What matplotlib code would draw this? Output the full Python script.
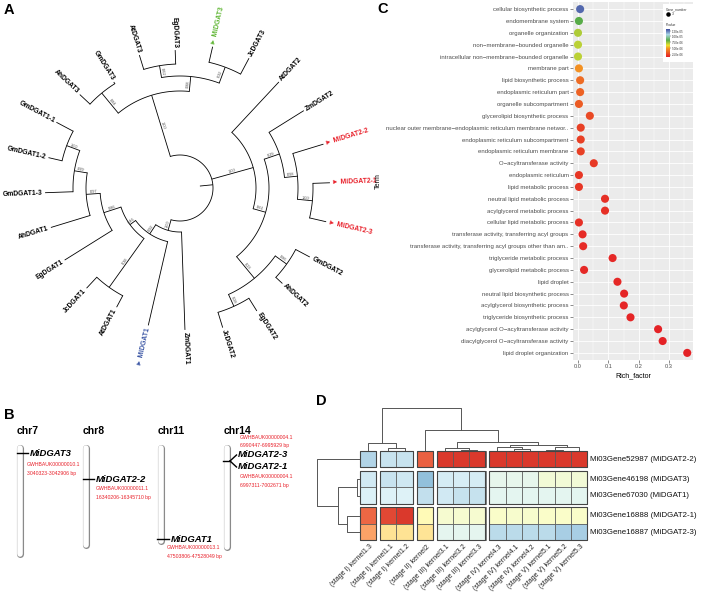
import numpy as np
import matplotlib
matplotlib.use('Agg')
import matplotlib.pyplot as plt
from matplotlib.colors import LinearSegmentedColormap, Normalize
from matplotlib.patches import Rectangle
from matplotlib.cm import ScalarMappable

# ======================= DATA =======================
# Panel A: phylogenetic tree (Newick, branch lengths, bootstrap support)
tree_newick = ("(((AhDGAT3:14,GmDGAT3:2)0.84:26,((AtDGAT3:15,EgDGAT3:14)0.62:12,"
               "(MiDGAT3:16,JcDGAT3:18)0.32:17)0.88:15)1.00:64,"
               "(AtDGAT2:69,((ZmDGAT2:41,(MiDGAT2-2:32,(MiDGAT2-1:17,MiDGAT2-3:17)1.00:15)0.98:13)0.29:16,"
               "((GmDGAT2:16,AhDGAT2:9)0.86:14,(EgDGAT2:15,JcDGAT2:16)0.28:13)0.23:28)0.61:13)1.00:43,"
               "(ZmDGAT1:98,(MiDGAT1:86,((AtDGAT1:13,JcDGAT1:15)0.38:60,(EgDGAT1:56,(AhDGAT1:41,"
               "(GmDGAT1-3:28,(GmDGAT1-2:14,GmDGAT1-1:19)1.00:14)0.99:13)0.97:14)0.86:18)0.46:7)0.92:11)1.00:11):13;")
highlight_tips = ['MiDGAT3', 'MiDGAT2-1', 'MiDGAT2-2', 'MiDGAT2-3', 'MiDGAT1']
highlight_colors = ['#5db531', '#e8202a', '#e8202a', '#e8202a', '#3a55a4']

# Panel B: chromosome locations
chromosomes = ['chr7', 'chr8', 'chr11', 'chr14']
chrom_len_mb = [55.4, 50.3, 48.2, 51.8]
genes = ['MiDGAT3', 'MiDGAT2-2', 'MiDGAT1', 'MiDGAT2-3', 'MiDGAT2-1']
gene_chrom = ['chr7', 'chr8', 'chr11', 'chr14', 'chr14']
gene_contig = ['GWHBAUK00000010.1', 'GWHBAUK00000011.1', 'GWHBAUK00000013.1',
               'GWHBAUK00000004.1', 'GWHBAUK00000004.1']
gene_start = [3040323, 16340206, 47503806, 6990447, 6997311]
gene_end = [3042906, 16345710, 47528049, 6995929, 7002671]

# Panel C: GO enrichment
terms = ['cellular biosynthetic process', 'endomembrane system', 'organelle organization',
         'non\u2212membrane\u2212bounded organelle', 'intracellular non\u2212membrane\u2212bounded organelle',
         'membrane part', 'lipid biosynthetic process', 'endoplasmic reticulum part',
         'organelle subcompartment', 'glycerolipid biosynthetic process',
         'nuclear outer membrane\u2212endoplasmic reticulum membrane networ..',
         'endoplasmic reticulum subcompartment', 'endoplasmic reticulum membrane',
         'O\u2212acyltransferase activity', 'endoplasmic reticulum', 'lipid metabolic process',
         'neutral lipid metabolic process', 'acylglycerol metabolic process',
         'cellular lipid metabolic process', 'transferase activity, transferring acyl groups',
         'transferase activity, transferring acyl groups other than am..',
         'triglyceride metabolic process', 'glycerolipid metabolic process', 'lipid droplet',
         'neutral lipid biosynthetic process', 'acylglycerol biosynthetic process',
         'triglyceride biosynthetic process', 'acylglycerol O\u2212acyltransferase activity',
         'diacylglycerol O\u2212acyltransferase activity', 'lipid droplet organization']
rich_factor = [0.007, 0.003, 0.0, 0.0, 0.0, 0.003, 0.007, 0.007, 0.003, 0.039,
               0.009, 0.009, 0.009, 0.052, 0.003, 0.003, 0.089, 0.089, 0.003, 0.015,
               0.017, 0.114, 0.020, 0.130, 0.152, 0.151, 0.173, 0.264, 0.279, 0.360]
pvalue = [1.25e-5, 8.4e-6, 7.2e-6, 7.0e-6, 7.0e-6, 4.9e-6, 3.8e-6, 3.5e-6, 3.3e-6, 2.8e-6,
          2.5e-6, 2.5e-6, 2.5e-6, 2.3e-6, 2.2e-6, 2.2e-6, 2.0e-6, 2.0e-6, 2.0e-6, 1.9e-6,
          1.9e-6, 1.8e-6, 1.8e-6, 1.8e-6, 1.7e-6, 1.7e-6, 1.7e-6, 1.6e-6, 1.6e-6, 1.6e-6]
pvalue_ticks = [1.2e-5, 1.0e-5, 7.5e-6, 5.0e-6, 2.5e-6]
gene_number = 3

# Panel D: expression heatmap (row-scaled)
samples = ['(stage I) kernel1.3', '(stage I) kernel1.1', '(stage I) kernel1.2', '(stage II) kernel2',
           '(stage III) kernel3.1', '(stage III) kernel3.2', '(stage III) kernel3.3',
           '(stage IV) kernel4.3', '(stage IV) kernel4.1', '(stage IV) kernel4.2',
           '(stage V) kernel5.1', '(stage V) kernel5.2', '(stage V) kernel5.3']
gene_ids = ['Mi03Gene52987 (MiDGAT2-2)', 'Mi03Gene46198 (MiDGAT3)', 'Mi03Gene67030 (MiDGAT1)',
            'Mi03Gene16888 (MiDGAT2-1)', 'Mi03Gene16887 (MiDGAT2-3)']
expr = np.array([
    [-1.05, -0.87, -0.87, 1.65, 1.93, 1.93, 1.93, 1.93, 1.93, 1.93, 1.93, 1.93, 1.93],
    [-0.79, -0.86, -0.80, -1.32, -0.76, -0.74, -0.76, -0.53, -0.53, -0.53, -0.27, -0.27, -0.27],
    [-0.70, -0.68, -0.68, -0.92, -0.79, -0.88, -0.88, -0.57, -0.57, -0.57, -0.57, -0.57, -0.57],
    [1.60, 1.82, 1.93, 0.12, -0.20, -0.20, -0.20, -0.12, -0.16, -0.16, -0.12, -0.12, -0.12],
    [1.16, 0.60, 0.60, 0.58, -0.56, -0.56, -0.56, -0.97, -0.97, -0.97, -0.97, -1.13, -1.13]])
col_groups = [1, 2, 1, 3, 6]
row_groups = [1, 2, 2]
col_linkage = [[0, [1, 2, 3], 8],
               [3, [[4, [5, 6, 1.5], 3], [[7, [8, 9, 2], 4], [[10, 11, 1.5], 12, 4], 6], 9], 21], 43]
row_linkage = [0, [[1, 2, 3], [3, 4, 13], 22], 43]

# ======================= FIGURE =======================
W, H = 701, 598
plt.rcParams['font.family'] = ['Liberation Sans', 'DejaVu Sans']
fig = plt.figure(figsize=(W / 100, H / 100), dpi=100)
fig.patch.set_facecolor('white')


def box(x0, y0, x1, y1):
    return [x0 / W, 1 - y1 / H, (x1 - x0) / W, (y1 - y0) / H]


def ftext(x, y, s, **kw):
    fig.text(x / W, 1 - y / H, s, **kw)


ftext(4, 10, 'A', fontsize=10.5, fontweight='bold', va='center')
ftext(4, 415, 'B', fontsize=10.5, fontweight='bold', va='center')
ftext(377, 9, 'C', fontsize=10.5, fontweight='bold', va='center')
ftext(316, 401, 'D', fontsize=10.5, fontweight='bold', va='center')

# ---------------- Panel A ----------------
def parse_newick(s):
    s = s.strip().rstrip(';')
    pos = 0

    def node():
        nonlocal pos
        children = []
        if s[pos] == '(':
            pos += 1
            while True:
                children.append(node())
                if s[pos] == ',':
                    pos += 1
                    continue
                pos += 1
                break
        st = pos
        while pos < len(s) and s[pos] not in ',():':
            pos += 1
        name = s[st:pos]
        length = 0.0
        if pos < len(s) and s[pos] == ':':
            pos += 1
            st = pos
            while pos < len(s) and s[pos] not in ',()':
                pos += 1
            length = float(s[st:pos])
        return {'name': name, 'len': length, 'children': children}
    return node()


tree = parse_newick(tree_newick)
R_OFFSET = 20
A_START, A_STEP = 137.0, 360.0 / 24
leaves = []


def assign(n, r0):
    n['rp'] = r0
    n['r'] = r0 + n['len']
    if not n['children']:
        n['ang'] = A_START - A_STEP * len(leaves)
        leaves.append(n)
    else:
        for c in n['children']:
            assign(c, n['r'])
        n['ang'] = float(np.mean([c['ang'] for c in n['children']]))


assign(tree, R_OFFSET)

R_AX = 180
axA = fig.add_axes(box(180 - R_AX, 188 - R_AX, 180 + R_AX, 188 + R_AX), projection='polar')
axA.set_ylim(0, R_AX)
axA.axis('off')


def rot_of(a):
    a = (a + 180) % 360 - 180
    if a > 90:
        return a - 180, True
    if a < -90:
        return a + 180, True
    return a, False


LW = 0.6


def draw_tree(n, is_root=False):
    th = np.deg2rad(n['ang'])
    axA.plot([th, th], [n['rp'], n['r']], color='black', lw=LW, solid_capstyle='butt')
    if n['children']:
        angs = [c['ang'] for c in n['children']]
        t = np.deg2rad(np.linspace(min(angs), max(angs), 120))
        axA.plot(t, np.full_like(t, n['r']), color='black', lw=LW)
        for c in n['children']:
            draw_tree(c)
        if not is_root and n['name']:
            rot, _ = rot_of(n['ang'])
            axA.text(th, (n['rp'] + n['r']) / 2, n['name'], fontsize=2.8, color='#444444',
                     rotation=rot, rotation_mode='anchor', ha='center', va='bottom')
    else:
        rot, flipped = rot_of(n['ang'])
        name = n['name']
        color = 'black'
        if name in highlight_tips:
            color = highlight_colors[highlight_tips.index(name)]
            name = '\u25ba ' + name
        axA.text(th, n['r'] + 2.5, name, fontsize=4.9, fontweight='bold', color=color,
                 rotation=rot, rotation_mode='anchor', va='center',
                 ha='right' if flipped else 'left')


draw_tree(tree, is_root=True)

# ---------------- Panel B ----------------
PX_PER_MB = 1.93
TOP_PX = 447.5
axB = fig.add_axes(box(0, 400, 350, 598))
axB.set_xlim(0, 350)
axB.set_ylim((598 - TOP_PX) / PX_PER_MB, -(TOP_PX - 400) / PX_PER_MB)
axB.axis('off')
chrom_x = [20, 86, 160.5, 226.5]
for cx, name, L in zip(chrom_x, chromosomes, chrom_len_mb):
    axB.plot([cx, cx], [0, L], color='#8a8a8a', lw=5.1, solid_capstyle='round')
    axB.plot([cx, cx], [0, L], color='white', lw=4.0, solid_capstyle='round')
    axB.annotate(name, xy=(cx, 0), xytext=(-3 * 0.72, 11 * 0.72), textcoords='offset points',
                 fontsize=7.5, fontweight='bold', ha='left', va='bottom')

red = '#e8202a'
pt = 0.72  # points per pixel
single = {'MiDGAT3': (7, 11, 20), 'MiDGAT2-2': (10, 9, 18), 'MiDGAT1': (6.5, 8, 17)}
for g, ch, ctg, s0, e0 in zip(genes, gene_chrom, gene_contig, gene_start, gene_end):
    cx = chrom_x[chromosomes.index(ch)]
    y = s0 / 1e6
    if g in single:
        dx, d1, d2 = single[g]
        axB.plot([cx - 3.5, cx + 8], [y, y], color='black', lw=1.0)
        axB.annotate(g, xy=(cx, y), xytext=(10 * pt, 0), textcoords='offset points',
                     fontsize=6.8, fontweight='bold', fontstyle='italic', ha='left', va='center')
        axB.annotate(ctg, xy=(cx, y), xytext=(dx * pt, -d1 * pt), textcoords='offset points',
                     fontsize=3.7, color=red, ha='left', va='center')
        axB.annotate('%d-%d bp' % (s0, e0), xy=(cx, y), xytext=(dx * pt, -d2 * pt),
                     textcoords='offset points', fontsize=3.7, color=red, ha='left', va='center')

# chr14 pair with forked connector
cx = chrom_x[3]
ys = [s / 1e6 for g, s in zip(genes, gene_start) if g in ('MiDGAT2-3', 'MiDGAT2-1')]
yc = float(np.mean(ys))
fork = 6 / PX_PER_MB
axB.plot([cx - 3.5, cx + 3.5], [yc, yc], color='black', lw=1.0)
axB.plot([cx + 3.5, cx + 10], [yc, yc - fork], color='black', lw=1.0)
axB.plot([cx + 3.5, cx + 10], [yc, yc + fork], color='black', lw=1.0)
for g, ctg, s0, e0 in zip(genes, gene_contig, gene_start, gene_end):
    if g == 'MiDGAT2-3':
        axB.annotate(g, xy=(cx, yc - fork), xytext=(11 * pt, 0), textcoords='offset points',
                     fontsize=6.8, fontweight='bold', fontstyle='italic', ha='left', va='center')
        axB.annotate(ctg, xy=(cx, yc - fork), xytext=(13.5 * pt, 17 * pt), textcoords='offset points',
                     fontsize=3.7, color=red, ha='left', va='center')
        axB.annotate('%d-%d bp' % (s0, e0), xy=(cx, yc - fork), xytext=(13.5 * pt, 9 * pt),
                     textcoords='offset points', fontsize=3.7, color=red, ha='left', va='center')
    if g == 'MiDGAT2-1':
        axB.annotate(g, xy=(cx, yc + fork), xytext=(11 * pt, 0), textcoords='offset points',
                     fontsize=6.8, fontweight='bold', fontstyle='italic', ha='left', va='center')
        axB.annotate(ctg, xy=(cx, yc + fork), xytext=(13.5 * pt, -10 * pt), textcoords='offset points',
                     fontsize=3.7, color=red, ha='left', va='center')
        axB.annotate('%d-%d bp' % (s0, e0), xy=(cx, yc + fork), xytext=(13.5 * pt, -19 * pt),
                     textcoords='offset points', fontsize=3.7, color=red, ha='left', va='center')

# ---------------- Panel C ----------------
p_cmap = LinearSegmentedColormap.from_list('pv', [(0.0, '#e41f26'), (0.3, '#f39323'), (0.42, '#ebe32d'),
                                                  (0.6, '#58ac48'), (0.8, '#a9d6e5'), (1.0, '#3b4a9f')])
p_norm = Normalize(1.5e-6, 1.3e-5)
axC = fig.add_axes(box(573, 2, 693, 360))
axC.set_facecolor('#ebebeb')
ypos = np.arange(len(terms))
axC.set_xlim(-0.0165, 0.379)
axC.set_ylim(len(terms) - 0.4, -0.6)
for sp in axC.spines.values():
    sp.set_visible(False)
axC.set_xticks([0.0, 0.1, 0.2, 0.3])
axC.set_xticklabels(['0.0', '0.1', '0.2', '0.3'])
axC.set_xticks([0.05, 0.15, 0.25, 0.35], minor=True)
axC.set_yticks(ypos)
axC.set_yticklabels(terms)
axC.grid(True, which='major', color='white', lw=0.6)
axC.grid(True, which='minor', axis='x', color='white', lw=0.3)
axC.set_axisbelow(True)
axC.tick_params(axis='both', which='major', length=2, width=0.4, color='#333333',
                labelcolor='#4d4d4d', pad=1.2)
axC.tick_params(axis='y', labelsize=4.3)
axC.tick_params(axis='x', labelsize=4.1)
axC.tick_params(axis='x', which='minor', length=0)
axC.scatter(rich_factor, ypos, c=pvalue, cmap=p_cmap, norm=p_norm, s=34, zorder=3, linewidths=0)
axC.set_xlabel('Rich_factor', fontsize=5.1, labelpad=2)
axC.set_ylabel('Term', fontsize=5.1)
axC.yaxis.set_label_coords((382 - 573) / 120, 0.5)

# legend box
axL = fig.add_axes(box(663, 4, 697, 62))
axL.set_facecolor('white')
axL.set_xticks([])
axL.set_yticks([])
for sp in axL.spines.values():
    sp.set_visible(False)
axL.set_xlim(0, 34)
axL.set_ylim(58, 0)
axL.text(3, 5, 'Gene_number', fontsize=2.4, color='#333333', va='center')
axL.scatter([5], [10], s=5, color='black')
axL.text(9, 10, str(gene_number), fontsize=2.4, color='#333333', va='center')
axL.text(3, 21, 'Pvalue', fontsize=2.4, color='#333333', va='center')
cax = fig.add_axes(box(666, 29, 670, 57))
cb = fig.colorbar(ScalarMappable(norm=p_norm, cmap=p_cmap), cax=cax, ticks=pvalue_ticks)
cb.outline.set_visible(False)
cb.ax.set_yticklabels(['%.2e' % v for v in pvalue_ticks])
cb.ax.tick_params(labelsize=2.2, length=0.8, width=0.3, pad=0.8, colors='#333333')

# ---------------- Panel D ----------------
hm_cmap = LinearSegmentedColormap.from_list('rdylbu', ['#4575B4', '#91BFDB', '#E0F3F8', '#FFFFBF',
                                                       '#FEE090', '#FC8D59', '#D73027'])
hm_norm = Normalize(-2, 2)
CW, CH, GX, GY = 16.3, 16.4, 3.8, 3.6


def edges(groups, size, gap):
    out, bounds, pos = [], [], 0.0
    for n in groups:
        start = pos
        for _ in range(n):
            out.append(pos)
            pos += size
        bounds.append((start, pos))
        pos += gap
    return out, bounds, pos - gap


col_x, col_bounds, TOTW = edges(col_groups, CW, GX)
row_y, row_bounds, TOTH = edges(row_groups, CH, GY)
HX0, HY0 = 360, 451
axD = fig.add_axes(box(HX0, HY0, HX0 + TOTW, HY0 + TOTH))
axD.set_xlim(0, TOTW)
axD.set_ylim(TOTH, 0)
axD.axis('off')
for i in range(expr.shape[0]):
    for j in range(expr.shape[1]):
        axD.add_patch(Rectangle((col_x[j], row_y[i]), CW, CH,
                                facecolor=hm_cmap(hm_norm(expr[i, j])),
                                edgecolor='#555555', lw=0.5, clip_on=False))
for (x0, x1) in col_bounds:
    for (y0, y1) in row_bounds:
        axD.add_patch(Rectangle((x0, y0), x1 - x0, y1 - y0, fill=False,
                                edgecolor='#444444', lw=0.8, clip_on=False))
col_centers = [x + CW / 2 for x in col_x]
row_centers = [y + CH / 2 for y in row_y]
for xc, lab in zip(col_centers, samples):
    axD.text(xc + 1.5, TOTH + 3, lab, rotation=45, rotation_mode='anchor', ha='right', va='top',
             fontsize=5.0, color='#222222')
for yc_, lab in zip(row_centers, gene_ids):
    axD.text(TOTW + 3, yc_, lab, ha='left', va='center', fontsize=5.7, color='#111111')


def dendro(node, pos, draw):
    if isinstance(node, int):
        return pos[node], 0.0
    l, r, h = node
    cl, hl = dendro(l, pos, draw)
    cr, hr = dendro(r, pos, draw)
    draw(cl, hl, cr, hr, h)
    return (cl + cr) / 2, h


axDc = fig.add_axes(box(HX0, 405, HX0 + TOTW, HY0))
axDc.set_xlim(0, TOTW)
axDc.set_ylim(0, 46)
axDc.axis('off')
dendro(col_linkage, col_centers,
       lambda cl, hl, cr, hr, h: axDc.plot([cl, cl, cr, cr], [hl, h, h, hr], color='#555555', lw=0.7))

axDr = fig.add_axes(box(313, HY0, HX0, HY0 + TOTH))
axDr.set_xlim(47, 0)
axDr.set_ylim(TOTH, 0)
axDr.axis('off')
dendro(row_linkage, row_centers,
       lambda cl, hl, cr, hr, h: axDr.plot([hl, h, h, hr], [cl, cl, cr, cr], color='#555555', lw=0.7))

fig.savefig('out.png', dpi=100, facecolor='white')
